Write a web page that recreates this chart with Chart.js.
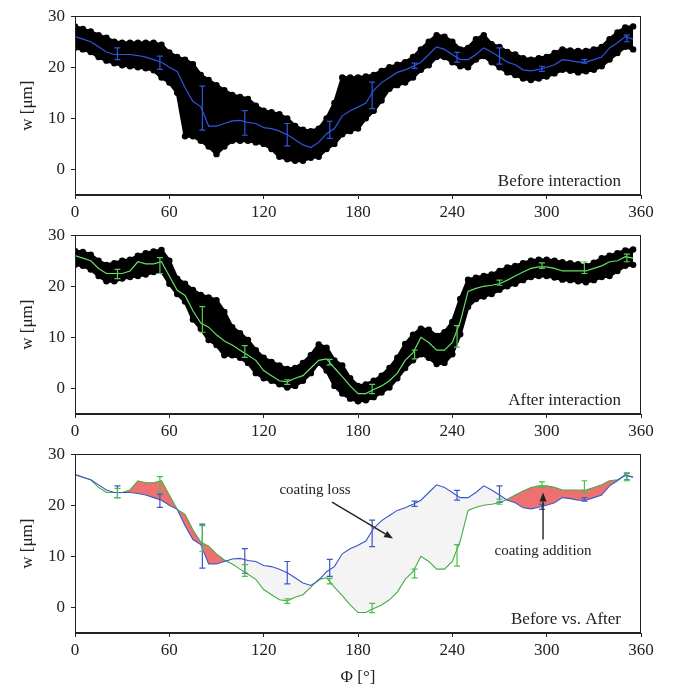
<!DOCTYPE html>
<html>
<head>
<meta charset="utf-8">
<script src="https://cdn.jsdelivr.net/npm/chart.js@4.4.1/dist/chart.umd.min.js"></script>
<style>
  html,body{margin:0;padding:0;background:#fff;}
  #wrap{position:relative;width:681px;height:694px;}
  canvas{position:absolute;left:0;}
</style>
</head>
<body>
<div id="wrap">
  <canvas id="c1" width="681" height="219" style="top:0px"></canvas>
  <canvas id="c2" width="681" height="219" style="top:219px"></canvas>
  <canvas id="c3" width="681" height="256" style="top:438px"></canvas>
</div>
<script>
// ---------------- data ----------------
const PHI = [0,5,10,15,20,25,30,35,40,45,50,55,60,65,70,75,80,85,90,95,100,105,110,115,120,125,130,135,140,145,150,155,160,165,170,175,180,185,190,195,200,205,210,215,220,225,230,235,240,245,250,255,260,265,270,275,280,285,290,295,300,305,310,315,320,325,330,335,340,345,350,355];
const X_TICKS = [0,60,120,180,240,300,360];
const Y_TICKS = [0,10,20,30];

// mean thickness before interaction (blue)
const BEFORE = [26,25.5,25,24,23,22.5,22.5,22.5,22.3,22,21.5,21,20,19.2,16,13.3,12.3,8.5,8.5,9,9.5,9.6,9.2,9,8.2,8,7.5,6.8,5.8,4.8,4.3,5.3,7,8,10.5,11.5,12.2,13,15.5,17,18,19,19.5,20.2,21,22.5,24,23.5,22.5,21.5,21.5,22.5,23.8,23,22,21,20.5,19.5,19.3,19.6,20,20.5,21.5,21.3,21,21,21.5,22,23.8,24.8,26,25.5];
// mean thickness after interaction (green)
const AFTER = [26,25.5,25,23.5,22.5,22.5,22.5,23,24.8,24.4,24.4,24.8,22,19.2,18.2,15.2,12.8,12,10.5,9.3,8.5,7.5,6.5,5.5,3.5,2.5,1.5,1.3,2,2.5,4,5.5,5.8,4,2.3,0.5,-1,-1,-0.2,0.5,1.5,3,5.5,7,10,9,7.5,7.5,9,13,19,19.6,20,20.2,20.5,21.2,22,22.8,23.5,23.8,23.8,23.5,23,23,23,23,23.5,24,24.8,25,25.8,25.5];

// measured point cloud envelopes (before)
const BEFORE_TOP = [28,27.5,27,26.3,25.8,25,24.8,24.8,24.8,24.8,24.8,24.4,22.9,22,21.5,20.6,18.5,17.5,16.5,15.5,14.6,14.2,13.8,12.5,11.5,11.2,10.8,10,8.5,7.8,7.5,8,10,13,18,18,18,18.2,18.5,19.3,20,20.5,21,22,23.5,25,26.3,26,25,23.5,23.8,25.5,26.3,24.5,24,23,22.5,21.8,21.5,21.8,22,22.8,23.5,23.3,23.2,23.2,23.5,24,25.5,26.8,27.8,28];
const BEFORE_BOT = [23.8,23.5,23,22,21.3,20.8,20.4,20.2,20,19.8,19.4,18,17,15,6.5,6.5,5.6,4.5,3,4.5,5.6,5.6,5.6,5.3,5,4,2.5,2,1.7,1.7,2.3,2.5,4,5,6.9,7.5,8,10,11.5,13.5,15.8,16.5,17,18,19.5,20.4,22,22,21,20.2,20,21.5,22.2,21,20,19,18.5,17.8,17.5,17.8,18.2,18.8,19.5,19.3,19,19.2,19.5,20.2,21.5,22.8,24,23.5];
// measured point cloud envelopes (after)
const AFTER_TOP = [26.9,26.7,26.2,25,24.2,24.5,25,25.2,26,26.5,26.8,27.1,25,21.5,20.5,19.3,18.3,17.8,17.3,15,12,10.8,9.5,7.5,6,5.2,4.5,3.8,4,5,6.5,8.6,8,5.5,4.5,2,0.5,0.8,1.5,2.5,4,6,8.7,10.5,11.7,11.5,10.3,11,13,17.5,21.3,21.7,22,22.3,23,23.7,24,24.5,25,25.2,25.2,25,24.7,24.5,24.3,24,24.6,25.5,26,26.5,27,27.2];
const AFTER_BOT = [24.2,24,23.3,22,21,21,21.5,21.8,22,22.3,22.8,23,20.5,18.5,17,13.5,11.7,9.5,8.5,6.5,6.5,6,5,3,2,1.5,0.8,0.2,0.5,1.5,3,5,3.5,0.5,-1,-2,-2.5,-2.3,-1.7,-0.8,0.2,2,4,5.5,6.7,6,4.8,5,6.7,10.6,16,17.5,18,18.5,19.3,20,20.5,21.2,21.8,22,22,21.7,21.3,21.2,21,20.8,21.2,21.8,22,23,24,24.2];

// error bars
const ERR_PHI = [27,54,81,108,135,162,189,216,243,270,297,324,351];
const BEFORE_ERR_LO = [21.5,19.6,7.7,6.7,4.6,6.1,11.9,19.8,21.0,20.6,19.2,20.8,25.0];
const BEFORE_ERR_HI = [23.8,22.2,16.3,11.5,9.0,9.4,17.1,20.8,22.9,23.8,20.2,21.5,26.3];
const AFTER_ERR_LO = [21.5,22.5,11,6.1,0.8,4.6,-1.0,5.8,8.1,20.2,23.5,22.5,24.8];
const AFTER_ERR_HI = [23.3,25.6,16,8.4,1.7,5.7,0.8,7.5,12.3,21.2,24.6,24.8,26.3];

// ---------------- helpers ----------------
const FONT = "'Liberation Serif', 'DejaVu Serif', serif";
const INK = '#222';
function pts(xs, ys){ return xs.map((x,i)=>({x:x, y:ys[i]})); }

const framePlugin = {
  id:'frame',
  afterDraw(chart){
    const a = chart.chartArea, ctx = chart.ctx;
    ctx.save();
    ctx.strokeStyle = INK; ctx.lineWidth = 1;
    ctx.strokeRect(Math.round(a.left)+0.5, Math.round(a.top)+0.5, Math.round(a.right-a.left)-1, Math.round(a.bottom-a.top)-1);
    const o = chart.options.plugins.extras || {};
    if (o.label){
      ctx.fillStyle = INK; ctx.font = '17px ' + FONT;
      ctx.textAlign = 'right'; ctx.textBaseline = 'middle';
      ctx.fillText(o.label, a.right - 20, a.bottom - 13);
    }
    ctx.restore();
  },
  afterDatasetsDraw(chart){
    const o = chart.options.plugins.extras || {};
    const xs = chart.scales.x, ys = chart.scales.y, ctx = chart.ctx;
    ctx.save();
    (o.errbars || []).forEach(eb=>{
      ctx.strokeStyle = eb.color; ctx.lineWidth = 1.2;
      ERR_PHI.forEach((p,i)=>{
        const x = xs.getPixelForValue(p);
        const y1 = ys.getPixelForValue(eb.lo[i]), y2 = ys.getPixelForValue(eb.hi[i]);
        ctx.beginPath();
        ctx.moveTo(x, y1); ctx.lineTo(x, y2);
        ctx.moveTo(x-3, y1); ctx.lineTo(x+3, y1);
        ctx.moveTo(x-3, y2); ctx.lineTo(x+3, y2);
        ctx.stroke();
      });
    });
    (o.notes || []).forEach(n=>{
      ctx.fillStyle = INK; ctx.font = '15px ' + FONT;
      ctx.textAlign = 'center'; ctx.textBaseline = 'middle';
      ctx.fillText(n.text, xs.getPixelForValue(n.tx), ys.getPixelForValue(n.ty));
      const x0 = xs.getPixelForValue(n.ax0), y0 = ys.getPixelForValue(n.ay0);
      const x1 = xs.getPixelForValue(n.ax1), y1 = ys.getPixelForValue(n.ay1);
      const ang = Math.atan2(y1-y0, x1-x0), L = 9, W = 3.5;
      const bx = x1 - L*Math.cos(ang), by = y1 - L*Math.sin(ang);
      ctx.strokeStyle = INK; ctx.lineWidth = 1.4;
      ctx.beginPath(); ctx.moveTo(x0,y0); ctx.lineTo(bx,by); ctx.stroke();
      ctx.beginPath();
      ctx.moveTo(x1,y1);
      ctx.lineTo(bx - W*Math.sin(ang), by + W*Math.cos(ang));
      ctx.lineTo(bx + W*Math.sin(ang), by - W*Math.cos(ang));
      ctx.closePath(); ctx.fill();
    });
    ctx.restore();
  }
};

function scalesCfg(xH, showXTitle){
  return {
    x:{type:'linear', min:0, max:360,
       afterBuildTicks(s){ s.ticks = X_TICKS.map(v=>({value:v})); },
       afterFit(s){ s.height = xH; },
       ticks:{color:INK, font:{family:FONT, size:17}, padding:3, maxRotation:0, autoSkip:false},
       grid:{display:true, drawOnChartArea:false, drawTicks:true, tickLength:4, color:INK},
       border:{display:true, color:INK},
       title:{display:showXTitle, text:'Φ [°]', color:INK, font:{family:FONT, size:17}, padding:{top:0,bottom:6}}
    },
    y:{type:'linear', min:-5, max:30,
       afterBuildTicks(s){ s.ticks = Y_TICKS.map(v=>({value:v})); },
       afterFit(s){ s.width = 75; },
       ticks:{color:INK, font:{family:FONT, size:17}, padding:6},
       grid:{display:true, drawOnChartArea:false, drawTicks:true, tickLength:4, color:INK},
       border:{display:true, color:INK},
       title:{display:true, text:'w [μm]', color:INK, font:{family:FONT, size:17}, padding:{top:17,bottom:0}}
    }
  };
}

function baseOptions(xH, showXTitle, extras){
  return {
    responsive:false, devicePixelRatio:1, animation:false,
    layout:{padding:{top:13, right:40, left:0, bottom:0}},
    plugins:{legend:{display:false}, tooltip:{enabled:false}, extras:extras},
    elements:{line:{tension:0}},
    scales:scalesCfg(xH, showXTitle)
  };
}

function cloudPanel(id, mean, top, bot, lineColor, label, errLo, errHi, errColor){
  new Chart(document.getElementById(id), {
    type:'line',
    data:{datasets:[
      {data:pts(PHI, mean), borderColor:lineColor, borderWidth:1.2, pointRadius:0, fill:false},
      {data:pts(PHI, top), borderColor:'#000', backgroundColor:'#000', borderWidth:3, pointRadius:3.2, pointBackgroundColor:'#000', pointBorderWidth:0, fill:{target:2}},
      {data:pts(PHI, bot), borderColor:'#000', borderWidth:3, pointRadius:3.2, pointBackgroundColor:'#000', pointBorderWidth:0, fill:false}
    ]},
    options:baseOptions(24, false, {label:label, errbars:[{lo:errLo, hi:errHi, color:errColor}]}),
    plugins:[framePlugin]
  });
}

cloudPanel('c1', BEFORE, BEFORE_TOP, BEFORE_BOT, '#2f55e0', 'Before interaction', BEFORE_ERR_LO, BEFORE_ERR_HI, '#2f55e0');
cloudPanel('c2', AFTER, AFTER_TOP, AFTER_BOT, '#66e066', 'After interaction', AFTER_ERR_LO, AFTER_ERR_HI, '#55cc55');

new Chart(document.getElementById('c3'), {
  type:'line',
  data:{datasets:[
    {data:pts(PHI, BEFORE), borderColor:'#3a56c8', borderWidth:1.1, pointRadius:0, fill:false},
    {data:pts(PHI, AFTER), borderColor:'#45ad45', borderWidth:1.1, pointRadius:0,
     fill:{target:0, above:'rgba(238,100,100,0.92)', below:'#f4f4f4'}}
  ]},
  options:baseOptions(61, true, {
    label:'Before vs. After',
    errbars:[{lo:BEFORE_ERR_LO, hi:BEFORE_ERR_HI, color:'#3a56c8'},{lo:AFTER_ERR_LO, hi:AFTER_ERR_HI, color:'#45c045'}],
    notes:[
      {text:'coating loss', tx:152.7, ty:22.9, ax0:163.5, ay0:20.6, ax1:202.3, ay1:13.5},
      {text:'coating addition', tx:297.7, ty:11, ax0:297.7, ay0:13.3, ax1:297.7, ay1:22.5}
    ]
  }),
  plugins:[framePlugin]
});
</script>
</body>
</html>
